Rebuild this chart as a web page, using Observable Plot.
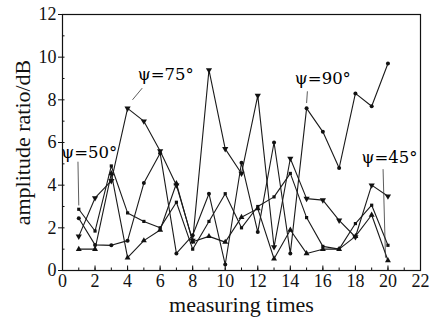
<!DOCTYPE html>
<html>
<head>
<meta charset="utf-8">
<script src="https://cdn.jsdelivr.net/npm/d3@7"></script>
<script src="https://cdn.jsdelivr.net/npm/@observablehq/plot@0.6"></script>
<style>
  html, body { margin: 0; padding: 0; background: #fff; }
  svg { display: block; }
</style>
</head>
<body>
<div id="chart"></div>
<script>
// measuring times
const times = [1,2,3,4,5,6,7,8,9,10,11,12,13,14,15,16,17,18,19,20];
// amplitude ratio (dB) per series
const psi50 = [2.87,1.85,4.9,2.7,2.3,2.0,3.2,1.0,2.3,3.6,2.0,3.0,3.45,4.55,2.48,1.13,1.0,2.2,3.06,1.18];
const psi75 = [1.6,3.4,4.2,7.6,7.0,5.6,4.0,1.4,9.4,5.7,4.55,8.2,1.1,5.25,3.37,3.3,2.35,1.57,4.0,3.48];
const psi90 = [2.45,1.2,1.18,1.4,4.1,5.5,0.8,1.65,3.6,0.28,5.05,1.8,6.0,0.8,7.6,6.5,4.8,8.3,7.7,9.7];
const psi45 = [1.0,1.0,4.55,0.6,1.4,1.9,4.08,1.35,1.6,1.33,2.5,2.9,0.55,1.9,0.8,1.0,1.0,1.6,2.6,0.47];
// tick labels
const xTicks = [0,2,4,6,8,10,12,14,16,18,20,22];
const yTicks = [0,2,4,6,8,10,12];
const xTitle = "measuring times";
const yTitle = "amplitude ratio/dB";
// annotation labels
const labelNames = ["ψ=50°","ψ=75°","ψ=90°","ψ=45°"];
const labelX = [1.65, 6.35, 16.0, 20.1];
const labelY = [5.5, 9.2, 9.0, 5.3];
const leaderFromX = [0.95, 4.9, 15.05, 19.7];
const leaderFromY = [5.1, 8.55, 8.4, 4.75];
const leaderToX = [1.0, 4.3, 15.0, 19.85];
const leaderToY = [3.05, 8.0, 7.85, 0.6];

const invTriangle = {
  draw(context, size) {
    const s = Math.sqrt(size * 4 / Math.sqrt(3));
    const h = s * Math.sqrt(3) / 2;
    context.moveTo(-s / 2, -h / 3);
    context.lineTo(s / 2, -h / 3);
    context.lineTo(0, 2 * h / 3);
    context.closePath();
  }
};

const seriesDefs = [
  {vals: psi50, symbol: "square", r: 1.8},
  {vals: psi75, symbol: invTriangle, r: 2.3},
  {vals: psi90, symbol: "circle", r: 2.0},
  {vals: psi45, symbol: "triangle", r: 2.2}
];

const marks = [];
for (const s of seriesDefs) {
  const data = times.map((t, i) => ({x: t, y: s.vals[i]}));
  marks.push(Plot.line(data, {x: "x", y: "y", stroke: "#1a1a1a", strokeWidth: 1.1}));
  marks.push(Plot.dot(data, {x: "x", y: "y", symbol: () => s.symbol, r: s.r, fill: "#111", stroke: "none"}));
}

const labels = labelNames.map((n, i) => ({n, x: labelX[i], y: labelY[i], x1: leaderFromX[i], y1: leaderFromY[i], x2: leaderToX[i], y2: leaderToY[i]}));

const chart = Plot.plot({
  width: 433,
  height: 320,
  marginLeft: 62,
  marginRight: 13,
  marginTop: 14,
  marginBottom: 50,
  style: {fontFamily: "'Liberation Serif', 'DejaVu Serif', serif", fontSize: "17px", color: "#111", background: "#fff"},
  x: {domain: [0, 22]},
  y: {domain: [0, 12]},
  marks: [
    Plot.frame({stroke: "#111", strokeWidth: 1.2}),
    Plot.axisX({ticks: d3.range(0, 23, 1), tickSize: -2.5, text: null, label: null, stroke: "#111"}),
    Plot.axisX({ticks: xTicks, tickSize: -4.5, tickPadding: 8, fontSize: 18, label: null, stroke: "#111"}),
    Plot.axisY({ticks: d3.range(0, 13, 1), tickSize: -2.5, text: null, label: null, stroke: "#111"}),
    Plot.axisY({ticks: yTicks, tickSize: 4, tickPadding: 2, fontSize: 18, label: null, stroke: "#111"}),
    Plot.text([xTitle], {frameAnchor: "bottom", dy: 26, lineAnchor: "top", fontSize: 22, fill: "#111"}),
    Plot.text([yTitle], {frameAnchor: "left", dx: -40, rotate: -90, textAnchor: "middle", fontSize: 22, fill: "#111", letterSpacing: "1.4px"}),
    ...marks,
    Plot.link(labels, {x1: "x1", y1: "y1", x2: "x2", y2: "y2", stroke: "#333", strokeWidth: 0.8}),
    Plot.text(labels, {x: "x", y: "y", text: "n", fontSize: 16.5, fill: "#000", fontFamily: "'DejaVu Serif', serif", letterSpacing: "-0.6px"})
  ]
});
document.getElementById("chart").appendChild(chart);
</script>
</body>
</html>
